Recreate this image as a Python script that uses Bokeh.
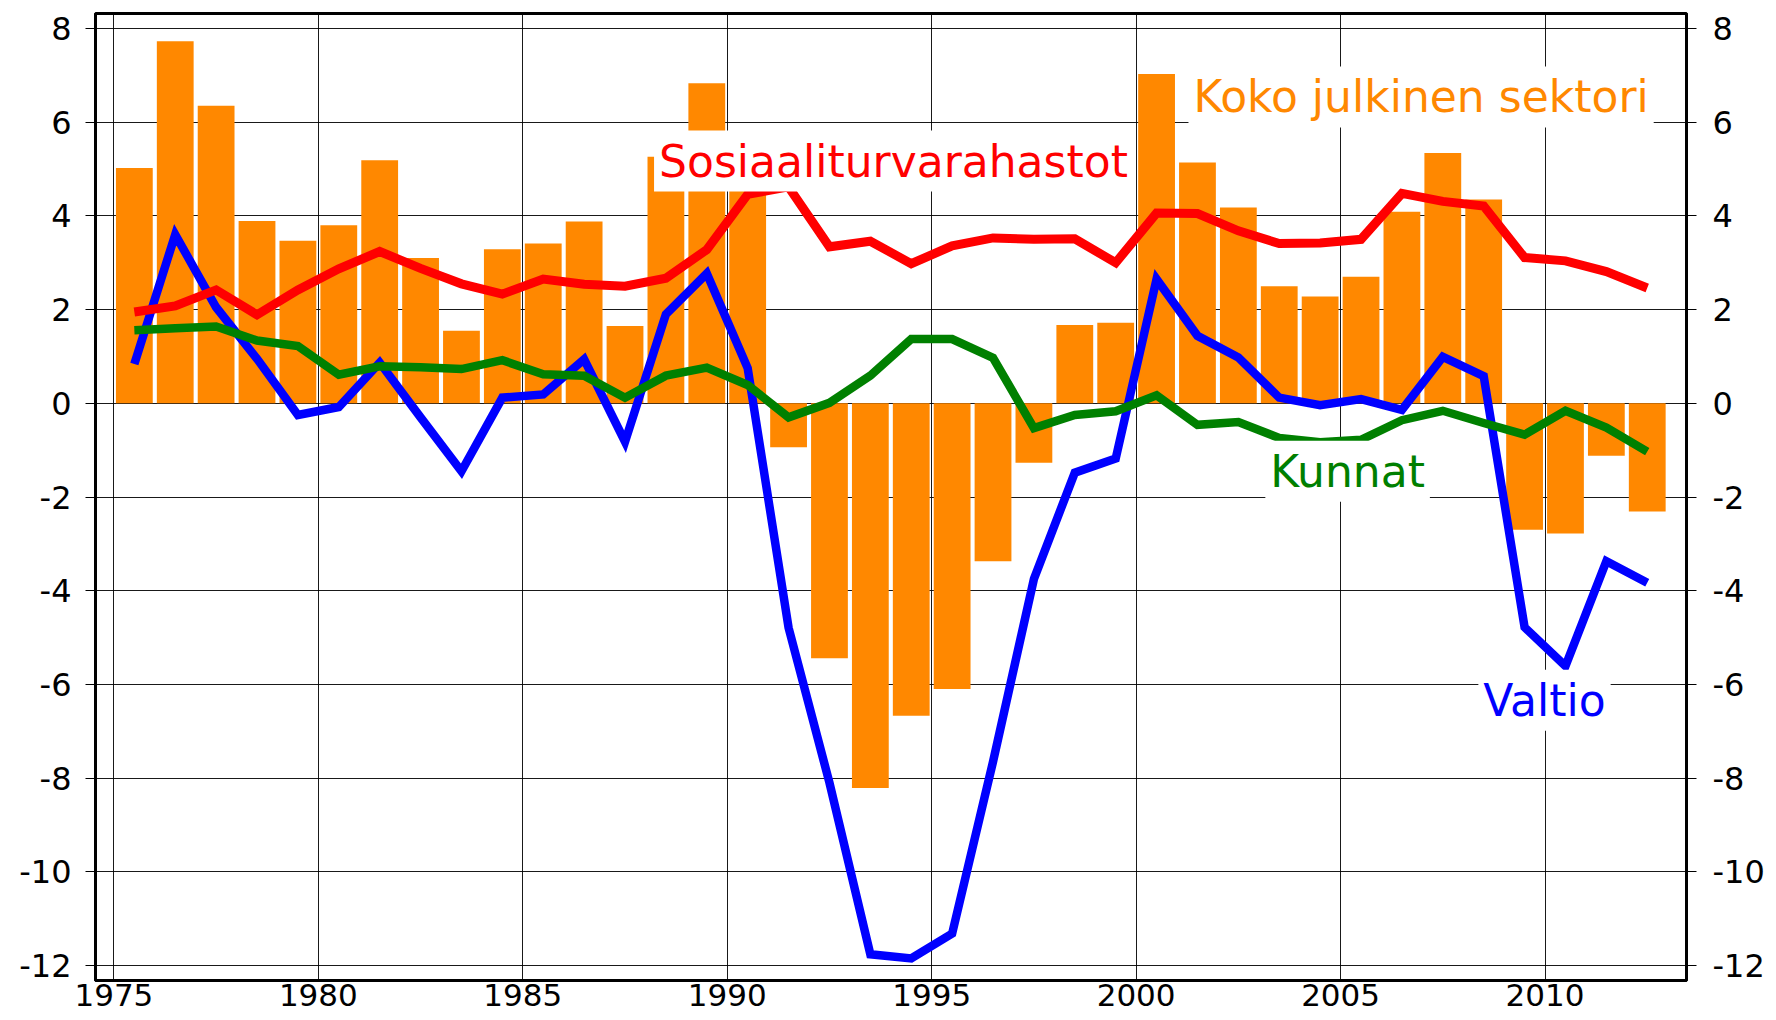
from bokeh.plotting import figure
from bokeh.models import Range1d, LinearAxis, FixedTicker, Label, PrintfTickFormatter
from bokeh.embed import file_html
from bokeh.resources import INLINE

years = list(range(1975, 2013))

koko_julkinen = [5.02, 7.73, 6.35, 3.89, 3.47, 3.80, 5.19, 3.10, 1.55, 3.29,
                 3.41, 3.88, 1.65, 5.26, 6.83, 5.40, -0.94, -5.44, -8.21, -6.67,
                 -6.10, -3.37, -1.27, 1.67, 1.72, 7.03, 5.14, 4.18, 2.50, 2.28,
                 2.70, 4.09, 5.34, 4.35, -2.70, -2.78, -1.12, -2.31]

sosiaaliturvarahastot = [1.95, 2.08, 2.42, 1.89, 2.42, 2.87, 3.24, 2.88, 2.55, 2.33,
                         2.65, 2.54, 2.50, 2.67, 3.28, 4.46, 4.62, 3.34, 3.46, 2.98,
                         3.36, 3.53, 3.50, 3.51, 3.00, 4.06, 4.05, 3.68, 3.41, 3.42,
                         3.50, 4.48, 4.31, 4.21, 3.11, 3.04, 2.81, 2.46]

valtio = [0.84, 3.60, 2.05, 0.95, -0.25, -0.08, 0.87, -0.30, -1.45, 0.12,
          0.19, 0.94, -0.82, 1.90, 2.77, 0.75, -4.79, -8.10, -11.76, -11.85,
          -11.32, -7.65, -3.75, -1.48, -1.18, 2.65, 1.44, 0.98, 0.12, -0.04,
          0.09, -0.14, 0.99, 0.58, -4.78, -5.61, -3.37, -3.83]

kunnat = [1.56, 1.60, 1.64, 1.34, 1.22, 0.61, 0.79, 0.77, 0.73, 0.92,
          0.62, 0.59, 0.12, 0.59, 0.76, 0.39, -0.30, 0.01, 0.59, 1.37,
          1.37, 0.97, -0.53, -0.25, -0.17, 0.17, -0.46, -0.40, -0.74, -0.83,
          -0.78, -0.36, -0.16, -0.42, -0.67, -0.16, -0.52, -1.03]

x_ticks = [1975, 1980, 1985, 1990, 1995, 2000, 2005, 2010]
y_ticks = [-12, -10, -8, -6, -4, -2, 0, 2, 4, 6, 8]

xmid = [y + 0.5 for y in years]

FONT = "DejaVu Sans"

p = figure(width=1770, height=1018, output_backend="svg", toolbar_location=None,
           x_range=Range1d(1974.55, 2013.46), y_range=Range1d(-12.32, 8.32),
           min_border_left=95, min_border_right=84, min_border_top=13, min_border_bottom=38)
p.background_fill_color = "white"
p.border_fill_color = "white"
p.outline_line_color = "black"
p.outline_line_width = 3

p.xaxis.ticker = FixedTicker(ticks=x_ticks)
p.yaxis.ticker = FixedTicker(ticks=y_ticks)
right_axis = LinearAxis(ticker=FixedTicker(ticks=y_ticks))
p.add_layout(right_axis, "right")

for ax in [p.xaxis[0], p.yaxis[0], right_axis]:
    ax.formatter = PrintfTickFormatter(format="%d")
    ax.axis_line_color = "black"
    ax.axis_line_width = 3
    ax.major_tick_line_color = "black"
    ax.major_tick_line_width = 1
    ax.minor_tick_line_color = None
    ax.major_label_text_font = FONT
    ax.major_label_text_color = "black"
    ax.major_tick_in = 0

p.xaxis.major_tick_out = 0
p.xaxis.major_label_standoff = 3
p.xaxis.major_label_text_font_size = "31px"
p.yaxis.major_tick_out = 10
p.yaxis.major_label_standoff = 14
p.yaxis.major_label_text_font_size = "32px"
right_axis.major_tick_out = 10
right_axis.major_label_standoff = 16
right_axis.major_label_text_font_size = "32px"

p.xgrid.ticker = FixedTicker(ticks=x_ticks)
p.ygrid.ticker = FixedTicker(ticks=y_ticks)
for g in [p.xgrid[0], p.ygrid[0]]:
    g.grid_line_color = "black"
    g.grid_line_alpha = 0.9
    g.grid_line_width = 1

p.vbar(x=xmid, top=koko_julkinen, bottom=0, width=0.9, fill_color="#FF8800", line_color=None)
p.line(xmid, valtio, line_color="#0000FF", line_width=8.5, line_join="miter")
p.line(xmid, kunnat, line_color="#008000", line_width=8.5, line_join="miter")
p.line(xmid, sosiaaliturvarahastot, line_color="#FF0000", line_width=9, line_join="miter")

labels = [
    ("Sosiaaliturvarahastot", 1988.21, 5.17, "#FF0000"),
    ("Koko julkinen sektori", 2001.28, 6.54, "#FF8800"),
    ("Kunnat", 2003.16, -1.45, "#007F00"),
    ("Valtio", 2008.37, -6.34, "#0000FF"),
]
for txt, lx, ly, col in labels:
    p.add_layout(Label(x=lx, y=ly, text=txt, text_color=col, text_font=FONT,
                       text_font_size="44px", text_baseline="alphabetic",
                       background_fill_color="white", padding=5))

open("out.html", "w").write(file_html(p, INLINE))
